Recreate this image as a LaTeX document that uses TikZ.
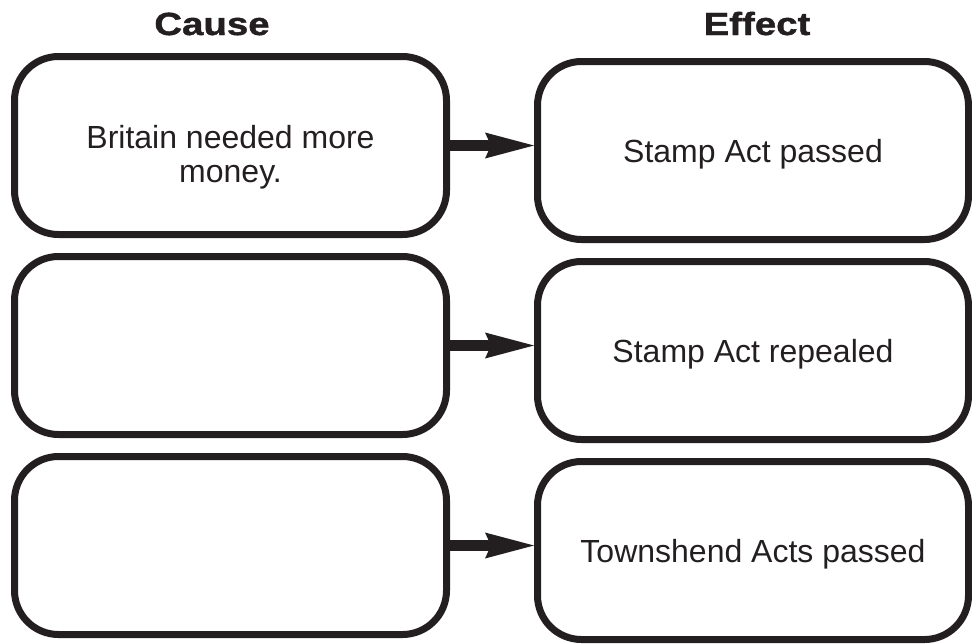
\documentclass[tikz,border=0pt]{standalone}
\usepackage{fontspec}
\setmainfont{Liberation Sans}
\newfontfamily\headfont[FakeStretch=1.2, FakeBold=1.3]{Liberation Sans}
\usepackage{tikz}
\usetikzlibrary{positioning, arrows.meta, calc}
\usepackage{xcolor}
\definecolor{ink}{HTML}{231F20}

\begin{document}
\begin{tikzpicture}[
  x=1pt, y=-1pt,
  every node/.style={font=\fontsize{32}{34}\selectfont, text=ink},
  head/.style={font=\headfont\bfseries\fontsize{32}{34}\selectfont, anchor=base},
  cause/.style={draw=ink, line width=7pt, rounded corners=44pt,
    minimum width=432pt, minimum height=178pt, align=center},
  effect/.style={cause, minimum width=431pt, text height=23pt, text depth=0pt},
  link/.style={draw=ink, line width=11pt,
    -{Stealth[length=49pt, width=26pt, inset=6pt, line width=0pt]}}
]
\useasboundingbox (0,0) rectangle (972,643);
\node[head] (causehead) at (212,35) {Cause};
\node[head] (effecthead) at (757,35) {Effect};
\node[cause, text height=80pt, text depth=7pt] (c1) at (230.5,145.5) {Britain needed more\\money.};
\node[cause] (c2) at (230.5,345.5) {};
\node[cause] (c3) at (230.5,545.5) {};
\foreach \i/\txt in {1/Stamp Act passed, 2/Stamp Act repealed, 3/Townshend Acts passed} {
  \node[effect] (e\i) at (753,{150.5+200*(\i-1)}) {\txt};
  \draw[link] (c\i.east) -- (c\i.east -| e\i.west);
}
\end{tikzpicture}
\end{document}
